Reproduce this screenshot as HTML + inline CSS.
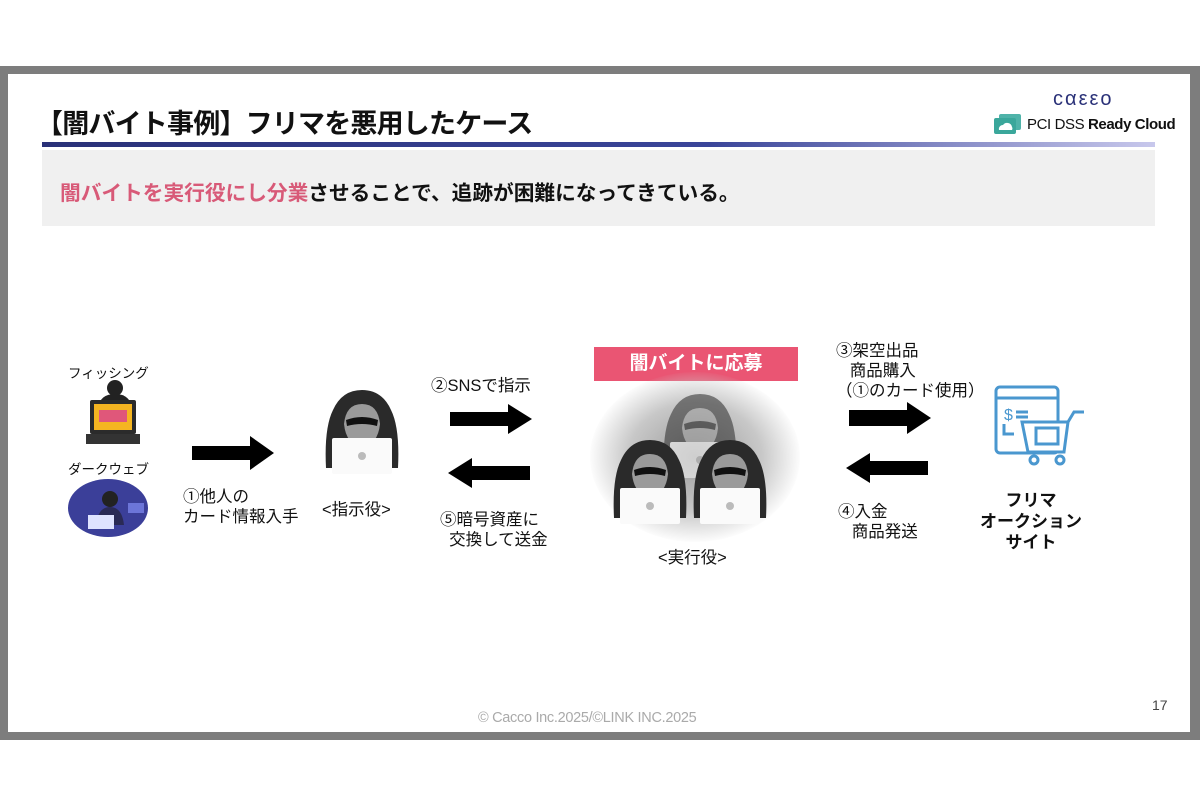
<!DOCTYPE html>
<html><head><meta charset="utf-8"><style>
body{margin:0;width:1200px;height:801px;background:#fff;position:relative;overflow:hidden;font-family:"Liberation Sans","Noto Sans CJK JP",sans-serif;color:#111}
.a{position:absolute;white-space:nowrap}
.fr{position:absolute;left:0;top:66px;width:1200px;height:674px;box-sizing:border-box;border:8px solid #7d7d7d;border-right-width:10px}
.t{font-size:16.5px;line-height:20px}
</style></head><body>
<div class="fr"></div>
<div class="a" style="left:36px;top:102px;font-size:27px;font-weight:bold;letter-spacing:-0.8px">【闇バイト事例】フリマを悪用したケース</div>
<div class="a" style="left:42px;top:142px;width:1113px;height:5px;background:linear-gradient(90deg,#2a3178 0%,#3a4599 60%,#c8c8ec 100%)"></div>
<div class="a" style="left:1053px;top:88px;font-size:20px;color:#2a3178;letter-spacing:2px">cαεεo</div>
<svg class="a" style="left:993px;top:113px" width="30" height="22"><rect x="6" y="1" width="22" height="16" rx="2" fill="#4fb3a9"/><rect x="1" y="5" width="22" height="16" rx="2" fill="#3aa79b"/><path d="M6 17a4 4 0 0 1 4-5 5 5 0 0 1 9 2 3 3 0 0 1 0 3z" fill="#fff"/></svg>
<div class="a" style="left:1027px;top:116px;font-size:15px;color:#111;letter-spacing:-0.4px"><span>PCI DSS </span><b>Ready Cloud</b></div>
<div class="a" style="left:42px;top:150px;width:1113px;height:76px;background:#f0f0f0"></div>
<div class="a" style="left:60px;top:176px;font-size:20.7px;font-weight:bold"><span style="color:#d85a78">闇バイトを実行役にし分業</span>させることで、追跡が困難になってきている。</div>

<div class="a" style="left:68px;top:362px;font-size:13.5px">フィッシング</div>
<svg class="a" style="left:82px;top:378px" width="60" height="70">
<circle cx="33" cy="10" r="8" fill="#222"/><path d="M16 30 Q18 16 33 16 Q48 16 50 30Z" fill="#222"/>
<rect x="8" y="22" width="46" height="34" rx="2" fill="#2b2b2b"/><rect x="12" y="26" width="38" height="26" fill="#f5b521"/>
<rect x="17" y="32" width="28" height="12" fill="#e0577a"/><rect x="4" y="56" width="54" height="10" fill="#333"/></svg>
<div class="a" style="left:68px;top:458px;font-size:13.5px">ダークウェブ</div>
<svg class="a" style="left:64px;top:477px" width="90" height="62"><ellipse cx="44" cy="31" rx="40" ry="29" fill="#3b3f99"/><circle cx="46" cy="22" r="8" fill="#222"/><path d="M32 48 Q34 30 46 30 Q58 30 60 48Z" fill="#2a2a55"/><rect x="24" y="38" width="26" height="14" fill="#dfe3ff"/><rect x="64" y="26" width="16" height="10" fill="#6c75d8"/></svg>

<svg class="a" style="left:192px;top:436px" width="82" height="34"><path d="M0 10H58V0L82 17L58 34V24H0Z" fill="#000"/></svg>
<div class="a t" style="left:183px;top:487px">①他人の<br>カード情報入手</div>

<svg width="0" height="0" style="position:absolute"><defs><g id="h"><path d="M6 80 Q4 40 13 22 Q22 2 42 2 Q62 2 71 22 Q80 40 78 80Z" fill="#2a2a2a"/><path d="M24 36 Q26 16 42 16 Q58 16 60 36 Q58 56 42 60 Q26 56 24 36Z" fill="#9a9a9a"/><path d="M26 32 Q42 26 58 32 L57 38 Q42 34 27 38Z" fill="#111"/><rect x="12" y="50" width="60" height="36" rx="2" fill="#fafafa"/><circle cx="42" cy="68" r="4" fill="#bbb"/></g></defs></svg>
<svg class="a" style="left:320px;top:388px" width="86" height="90"><use href="#h"/></svg>
<div class="a t" style="left:322px;top:500px">&lt;指示役&gt;</div>

<div class="a t" style="left:431px;top:376px">②SNSで指示</div>
<svg class="a" style="left:450px;top:404px" width="82" height="30"><path d="M0 8H58V0L82 15L58 30V22H0Z" fill="#000"/></svg>
<svg class="a" style="left:448px;top:458px" width="82" height="30"><path d="M82 8H24V0L0 15L24 30V22H82Z" fill="#000"/></svg>
<div class="a t" style="left:440px;top:510px">⑤暗号資産に<br>&nbsp;&nbsp;交換して送金</div>

<div class="a" style="left:594px;top:347px;width:204px;height:34px;background:#ea5573;color:#fff;font-size:19px;font-weight:bold;text-align:center;line-height:34px">闇バイトに応募</div>
<div class="a" style="left:590px;top:372px;width:210px;height:170px;border-radius:50%;background:radial-gradient(ellipse at center,#9a9a9a 0%,#c8c8c8 45%,rgba(255,255,255,0) 72%)"></div>
<svg class="a" style="left:658px;top:392px;opacity:.55" width="86" height="90"><use href="#h"/></svg>
<svg class="a" style="left:608px;top:438px" width="86" height="92"><use href="#h"/></svg>
<svg class="a" style="left:688px;top:438px" width="86" height="92"><use href="#h"/></svg>
<div class="a t" style="left:658px;top:548px">&lt;実行役&gt;</div>

<div class="a t" style="left:836px;top:341px">③架空出品<br>&nbsp;&nbsp;&nbsp;商品購入<br>（①のカード使用）</div>
<svg class="a" style="left:849px;top:402px" width="82" height="32"><path d="M0 8H58V0L82 16L58 32V24H0Z" fill="#000"/></svg>
<svg class="a" style="left:846px;top:453px" width="82" height="30"><path d="M82 8H24V0L0 15L24 30V22H82Z" fill="#000"/></svg>
<div class="a t" style="left:838px;top:502px">④入金<br>&nbsp;&nbsp;&nbsp;商品発送</div>

<svg class="a" style="left:992px;top:384px" width="96" height="88" fill="none" stroke="#4a97cf" stroke-width="3"><rect x="4" y="3" width="62" height="66" rx="4"/><line x1="4" y1="14" x2="66" y2="14"/><text x="12" y="36" fill="#4a97cf" stroke="none" font-size="16" font-family="Liberation Sans">$</text><line x1="24" y1="28" x2="36" y2="28"/><line x1="24" y1="33" x2="36" y2="33"/><path d="M12 40V50H22"/><path d="M30 38L36 68H72L76 38Z" fill="#fff"/><rect x="44" y="44" width="22" height="16"/><path d="M76 38L82 28H92"/><circle cx="42" cy="76" r="4"/><circle cx="68" cy="76" r="4"/></svg>
<div class="a" style="left:976px;top:490px;width:110px;text-align:center;font-size:17px;font-weight:bold;line-height:21px">フリマ<br>オークション<br>サイト</div>

<div class="a" style="left:478px;top:710px;font-size:14.5px;color:#aaa;letter-spacing:-0.3px">© Cacco Inc.2025/©LINK INC.2025</div>
<div class="a" style="left:1152px;top:697px;font-size:14px;color:#444">17</div>
</body></html>
